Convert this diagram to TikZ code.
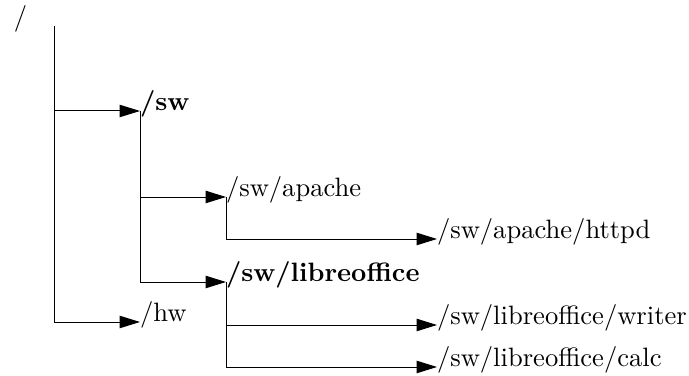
\documentclass[tikz,border=0pt]{standalone}
\usetikzlibrary{arrows.meta}
\begin{document}
\begin{tikzpicture}[x=0.3876pt,y=-0.3876pt,
  entry/.style={anchor=base west,inner sep=0pt,outer sep=0pt,font=\fontsize{10.3}{12}\selectfont},
  bentry/.style={entry,font=\fontsize{10.3}{12}\selectfont\bfseries},
  arr/.style={draw,line width=0.38pt,-{Triangle[length=7.9pt,width=4.8pt]}}]
\useasboundingbox (0,0) rectangle (689,376);
\node[entry] (root)   at (14,26)  {/};
\node[bentry] (sw)    at (140,111) {/sw};
\node[entry] (apache) at (226,197) {/sw/apache};
\node[entry] (httpd)  at (437,239) {/sw/apache/httpd};
\node[bentry] (libre) at (226,282) {/sw/libreoffice};
\node[entry] (writer) at (437,325) {/sw/libreoffice/writer};
\node[entry] (calc)   at (437,367) {/sw/libreoffice/calc};
\node[entry] (hw)     at (140,322) {/hw};
\coordinate (trunk) at ([xshift=15.5pt]root.base west);
\draw[arr] (trunk) |- (sw.base west);
\draw[arr] (trunk) |- (hw.base west);
\draw[arr] (sw.base west) |- (apache.base west);
\draw[arr] (sw.base west) |- (libre.base west);
\draw[arr] (apache.base west) |- (httpd.base west);
\draw[arr] (libre.base west) |- (writer.base west);
\draw[arr] (libre.base west) |- (calc.base west);
\end{tikzpicture}
\end{document}
